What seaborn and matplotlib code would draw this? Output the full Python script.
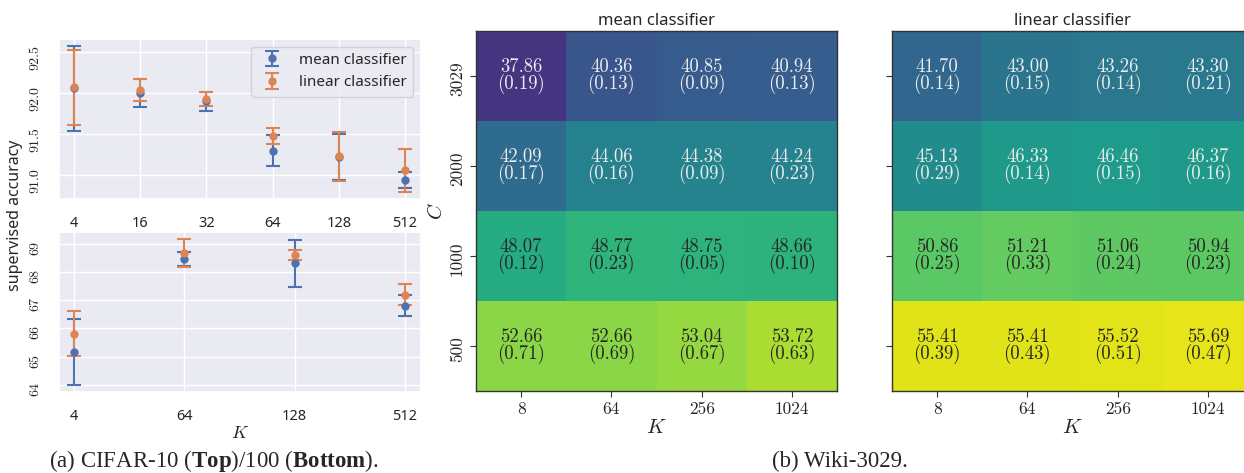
import numpy as np
import matplotlib
matplotlib.use("Agg")
import matplotlib.pyplot as plt
from matplotlib.transforms import ScaledTranslation
import seaborn as sns

# CIFAR-10 (top left panel)
k_c10 = ["4", "16", "32", "64", "128", "512"]
c10_mean = [92.06, 92.00, 91.90, 91.30, 91.22, 90.94]
c10_mean_err = [0.52, 0.17, 0.12, 0.19, 0.28, 0.10]
c10_lin = [92.07, 92.04, 91.93, 91.48, 91.23, 91.06]
c10_lin_err = [0.46, 0.13, 0.085, 0.10, 0.30, 0.26]

# CIFAR-100 (bottom left panel)
k_c100 = ["4", "64", "128", "512"]
c100_mean = [65.17, 68.47, 68.31, 66.81]
c100_mean_err = [1.17, 0.26, 0.85, 0.38]
c100_lin = [65.82, 68.68, 68.61, 67.20]
c100_lin_err = [0.80, 0.50, 0.18, 0.38]

# Wiki-3029 heatmaps (rows = C, columns = K)
wiki_K = ["8", "64", "256", "1024"]
wiki_C = ["3029", "2000", "1000", "500"]
wiki_mean = [[37.86, 40.36, 40.85, 40.94],
             [42.09, 44.06, 44.38, 44.24],
             [48.07, 48.77, 48.75, 48.66],
             [52.66, 52.66, 53.04, 53.72]]
wiki_mean_sd = [[0.19, 0.13, 0.09, 0.13],
                [0.17, 0.16, 0.09, 0.23],
                [0.12, 0.23, 0.05, 0.10],
                [0.71, 0.69, 0.67, 0.63]]
wiki_lin = [[41.70, 43.00, 43.26, 43.30],
            [45.13, 46.33, 46.46, 46.37],
            [50.86, 51.21, 51.06, 50.94],
            [55.41, 55.41, 55.52, 55.69]]
wiki_lin_sd = [[0.14, 0.15, 0.14, 0.21],
               [0.29, 0.14, 0.15, 0.16],
               [0.25, 0.33, 0.24, 0.23],
               [0.39, 0.43, 0.51, 0.47]]

sns.set_theme(style="darkgrid")
plt.rcParams["font.family"] = ["Noto Sans", "DejaVu Sans"]
plt.rcParams["mathtext.fontset"] = "custom"
plt.rcParams["mathtext.rm"] = "Liberation Serif"
plt.rcParams["mathtext.bf"] = "Liberation Serif:bold"
plt.rcParams["mathtext.it"] = "cmmi10"

blue, orange = sns.color_palette("deep")[:2]
W, H = 1244, 473
fig = plt.figure(figsize=(W / 100, H / 100), dpi=100)


def px_axes(x0, y0, x1, y1):
    return fig.add_axes([x0 / W, 1 - y1 / H, (x1 - x0) / W, (y1 - y0) / H])


def shift_yticklabels(ax, down_px):
    # the rotated serif labels sit a little below their ticks
    off = ScaledTranslation(0, -down_px / 100, fig.dpi_scale_trans)
    for t in ax.get_yticklabels():
        t.set_transform(t.get_transform() + off)


def err_panel(ax, labels, m, me, l, le, yticks, xpad):
    x = np.arange(len(labels))
    kw = dict(fmt="o", markersize=5, capsize=5, elinewidth=1.5, capthick=1.5)
    ax.errorbar(x, m, yerr=me, color=blue, label="mean classifier", **kw)
    ax.errorbar(x, l, yerr=le, color=orange, label="linear classifier", **kw)
    ax.set_xticks(x)
    ax.set_xticklabels(labels, fontsize=10.5)
    ax.set_xlim(-xpad[0], len(labels) - 1 + xpad[1])
    ax.set_yticks(yticks)
    ax.set_yticklabels([str(t) for t in yticks], fontsize=10, family="cmr10",
                       rotation=90, va="center")
    ax.tick_params(axis="y", pad=7)


ax1 = px_axes(59, 39, 421, 199)
err_panel(ax1, k_c10, c10_mean, c10_mean_err, c10_lin, c10_lin_err,
          [91.0, 91.5, 92.0, 92.5], (0.227, 0.24))
ax1.set_ylim(90.71, 92.66)
ax1.tick_params(axis="x", pad=6)
ax1.legend(loc="upper right", fontsize=11)

ax2 = px_axes(59, 232, 421, 392)
err_panel(ax2, k_c100, c100_mean, c100_mean_err, c100_lin, c100_lin_err,
          [64, 65, 66, 67, 68, 69], (0.136, 0.145))
ax2.set_ylim(63.74, 69.43)
ax2.tick_params(axis="x", pad=6)
ax2.set_xlabel("$K$", fontsize=13, labelpad=0)

fig.text(15 / W, 1 - 215 / H, "supervised accuracy", rotation=90,
         ha="center", va="center", fontsize=11.5)

# heatmaps with a shared colour scale
vmin, vmax = 34.5, 56.5
heat_axes = [px_axes(476, 31, 837, 391), px_axes(892, 31, 1253, 391)]
for ax, vals, sds, title in zip(heat_axes, [wiki_mean, wiki_lin],
                                [wiki_mean_sd, wiki_lin_sd],
                                ["mean classifier", "linear classifier"]):
    annot = np.array([[f"{v:.2f}\n({s:.2f})" for v, s in zip(rv, rs)]
                      for rv, rs in zip(vals, sds)])
    sns.heatmap(np.array(vals), ax=ax, cmap="viridis", vmin=vmin, vmax=vmax,
                cbar=False, annot=annot, fmt="",
                xticklabels=wiki_K, yticklabels=wiki_C,
                annot_kws={"fontsize": 13.5, "family": "cmr10", "linespacing": 0.85})
    flat = np.array(vals).ravel()
    for t, v in zip(ax.texts, flat):
        t.set_color("#ececec" if v < 47 else "#262626")
    for s in ax.spines.values():
        s.set_visible(True)
        s.set_color("#333333")
        s.set_linewidth(1.0)
    ax.tick_params(left=True, bottom=True, length=4, width=0.8, color="#333333")
    ax.tick_params(axis="y", pad=4)
    ax.tick_params(axis="x", pad=4)
    ax.set_xticklabels(wiki_K, fontsize=12.5, family="cmr10", rotation=0)
    ax.set_xlabel("$K$", fontsize=15, labelpad=0)
    ax.set_title(title, fontsize=12, pad=4)

heat_axes[0].set_yticklabels(wiki_C, fontsize=12.5, family="cmr10",
                             rotation=90, va="center")
heat_axes[0].set_ylabel("$C$", fontsize=15, labelpad=2)
heat_axes[1].set_yticklabels([])

shift_yticklabels(ax1, 5)
shift_yticklabels(ax2, 4)
shift_yticklabels(heat_axes[0], 3)

fig.text(214 / W, 1 - 461 / H, r"(a) CIFAR-10 ($\mathbf{Top}$)/100 ($\mathbf{Bottom}$).",
         family="Liberation Serif", fontsize=16.5, ha="center", va="center")
fig.text(840 / W, 1 - 461 / H, "(b) Wiki-3029.",
         family="Liberation Serif", fontsize=16.5, ha="center", va="center")

fig.savefig("out.png", dpi=100)
